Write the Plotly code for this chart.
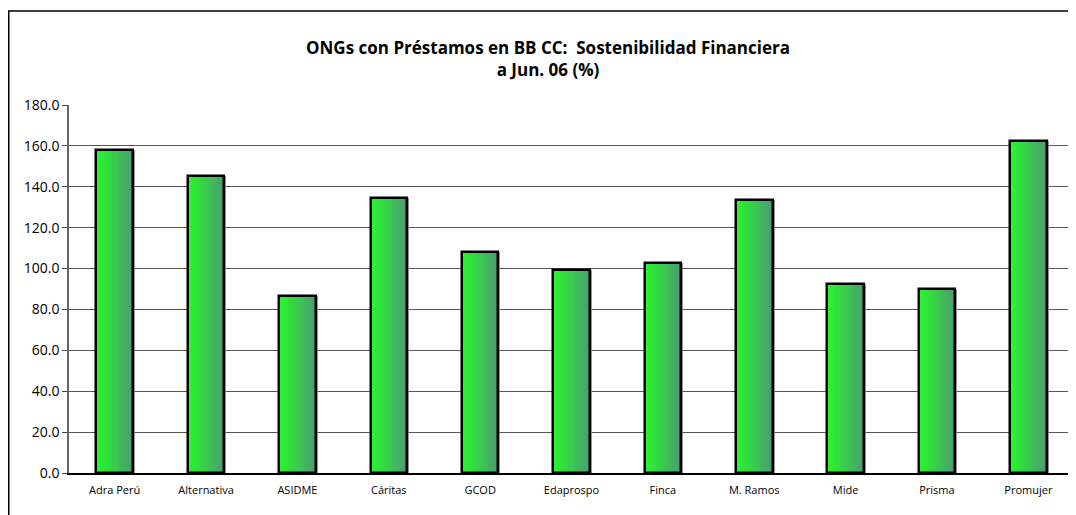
import plotly.graph_objects as go

categories = ["Adra Perú", "Alternativa", "ASIDME", "Cáritas", "GCOD", "Edaprospo",
              "Finca", "M. Ramos", "Mide", "Prisma", "Promujer"]
values = [158.0, 145.2, 86.6, 134.5, 108.0, 99.2, 102.7, 133.4, 92.5, 90.0, 162.4]
y_ticks = [0, 20, 40, 60, 80, 100, 120, 140, 160, 180]
title_text = "<b>ONGs con Préstamos en BB CC:  Sostenibilidad Financiera<br>a Jun. 06 (%)</b>"

# the page body has an 8px margin, so the figure is sized to fit inside the window
W, H = 1068, 507
ML, MR, MT, MB = 61, 2, 97, 42
font_family = "Open Sans, Lato, DejaVu Sans, sans-serif"

bar_w = 0.40
n_slices = 12
c0 = (40, 245, 45)
c1 = (76, 158, 112)

fig = go.Figure()

# subtle shadow
fig.add_trace(go.Bar(x=categories, y=values, width=bar_w, offset=-bar_w / 2 + 0.022,
                     marker=dict(color="rgba(120,120,120,0.8)", line=dict(width=0)),
                     hoverinfo="skip", showlegend=False))

for i in range(n_slices):
    t = i / (n_slices - 1)
    col = tuple(round(c0[k] + (c1[k] - c0[k]) * t) for k in range(3))
    fig.add_trace(go.Bar(
        x=categories, y=values,
        width=bar_w / n_slices * 1.05,
        offset=-bar_w / 2 + i * bar_w / n_slices,
        marker=dict(color=f"rgb{col}", line=dict(width=0)),
        hoverinfo="skip", showlegend=False))

fig.add_trace(go.Bar(x=categories, y=values, width=bar_w, offset=-bar_w / 2,
                     marker=dict(color="rgba(0,0,0,0)", line=dict(color="black", width=2.5)),
                     showlegend=False))

pw = W - ML - MR
ph = H - MT - MB
fig.add_shape(type="rect", xref="paper", yref="paper",
              x0=(0.75 - ML) / pw, x1=(W + 5 - ML) / pw,
              y0=-(H + 5 - MT - ph) / ph, y1=(H - 3 - MB) / ph,
              line=dict(color="black", width=1.5), fillcolor="rgba(0,0,0,0)", layer="below")

fig.update_layout(
    width=W, height=H,
    margin=dict(l=ML, r=MR, t=MT, b=MB),
    barmode="overlay", bargap=0,
    paper_bgcolor="white", plot_bgcolor="white",
    font=dict(family=font_family, size=12, color="black"),
    title=dict(text=title_text, x=540 / W, xanchor="center", xref="container",
               y=1 - 46 / H, yanchor="top", yref="container",
               font=dict(family=font_family, size=17, color="black")),
    showlegend=False,
)
fig.update_xaxes(showline=True, linecolor="black", linewidth=1.5, ticks="", showgrid=False,
                 tickfont=dict(size=11), ticklabelstandoff=6,
                 range=[-0.5, len(categories) - 0.5], mirror=False)
fig.update_yaxes(range=[0, 180], tickvals=y_ticks, tickformat=".1f", showgrid=True,
                 gridcolor="#555555", gridwidth=1, showline=True, linecolor="#666666",
                 linewidth=1.5, ticks="outside", ticklen=5, tickcolor="#444444",
                 tickfont=dict(size=14), zeroline=False)
fig.add_shape(type="line", xref="paper", yref="paper", x0=1, x1=1, y0=0, y1=1,
              line=dict(color="#333333", width=1))

fig.write_html("out.html")
